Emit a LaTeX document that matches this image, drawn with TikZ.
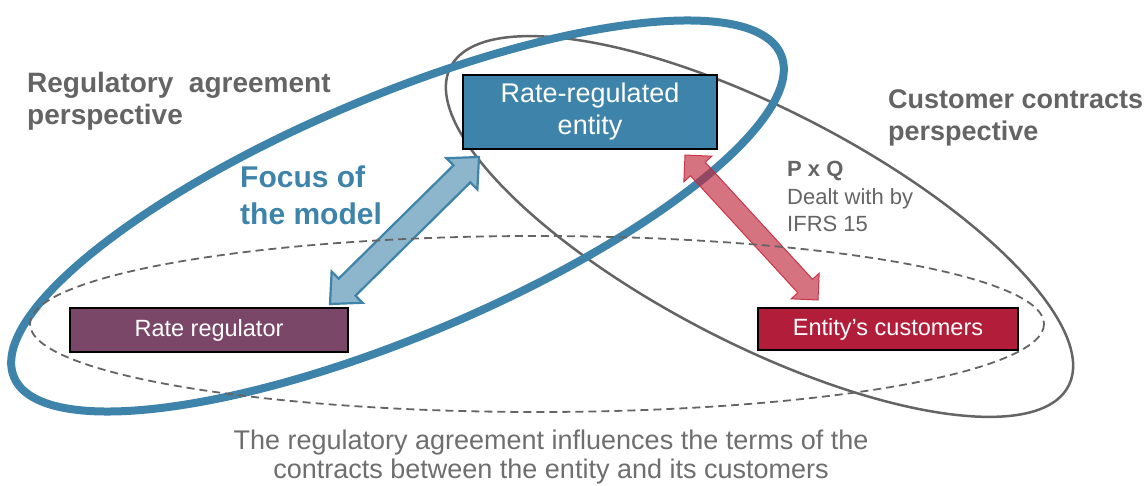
\documentclass[tikz,border=0pt]{standalone}
\usepackage{fontspec}
\setmainfont{Liberation Sans}
\usetikzlibrary{calc}
\definecolor{bblue}{RGB}{62,131,169}
\definecolor{lblue}{RGB}{141,181,204}
\definecolor{plum}{RGB}{123,71,104}
\definecolor{crim}{RGB}{178,30,58}
\definecolor{gtext}{RGB}{100,100,100}
\definecolor{capt}{RGB}{110,110,110}
\definecolor{gline}{RGB}{100,100,100}
\definecolor{redarr}{RGB}{192,40,60}
\definecolor{redline}{RGB}{200,40,60}
\newcommand\blockarrow[6]{%
  \path[#1] (#2)
    -- ($(#2)!#6!(#3)!#5!90:(#3)$)
    -- ($(#2)!#6!(#3)!#4!90:(#3)$)
    -- ($(#3)!#6!(#2)!#4!-90:(#2)$)
    -- ($(#3)!#6!(#2)!#5!-90:(#2)$)
    -- (#3)
    -- ($(#3)!#6!(#2)!#5!90:(#2)$)
    -- ($(#3)!#6!(#2)!#4!90:(#2)$)
    -- ($(#2)!#6!(#3)!#4!-90:(#3)$)
    -- ($(#2)!#6!(#3)!#5!-90:(#3)$)
    -- cycle;}
\tikzset{
  box/.style={draw=black, line width=1.6pt, text=white, align=center, inner sep=0pt},
  persp/.style={text=gtext, font=\fontsize{27}{32}\selectfont\bfseries, align=left, anchor=base west, inner sep=0pt},
}
\begin{document}
\begin{tikzpicture}[x=1pt,y=-1pt]
\useasboundingbox (0,0) rectangle (1147,486);
% ellipses
\draw[gline, line width=2.5pt, rotate around={-27.3:(759.5,226.5)}] (759.5,226.5) ellipse [x radius=347.7, y radius=117];
\draw[bblue, line width=8pt, rotate around={22.8:(397.5,216)}] (397.5,216) ellipse [x radius=416, y radius=120];
% arrows
\coordinate (bA) at (479,157);
\coordinate (bB) at (330,304);
\coordinate (rA) at (685,155);
\coordinate (rB) at (818,300);
\blockarrow{fill=lblue, draw=bblue, line width=2.2pt, line join=miter}{bA}{bB}{12pt}{22pt}{24pt}
\blockarrow{fill=redarr, fill opacity=0.65, draw=redline, draw opacity=0.9, line width=1pt, line join=miter}{rA}{rB}{10pt}{19pt}{19pt}
% dashed ellipse
\draw[gline, line width=1.8pt, dash pattern=on 8pt off 5pt] (537,324) ellipse [x radius=507, y radius=88];
% boxes
\node[box, fill=bblue, minimum width=254pt, minimum height=74pt, font=\fontsize{27}{32}\selectfont] (entity) at (590,112) {Rate-regulated\\entity};
\node[box, fill=plum, minimum width=278pt, minimum height=44pt, font=\fontsize{23.5}{28}\selectfont] (regulator) at (209,330) {Rate regulator};
\node[box, fill=crim, minimum width=260pt, minimum height=42pt, font=\fontsize{23.5}{28}\selectfont] (customers) at (888,329) {Entity’s customers};
% labels (base anchor = baseline of last line)
\node[persp, font=\fontsize{28}{32}\selectfont\bfseries] (regpersp) at (27,125) {Regulatory\ \ agreement\\perspective};
\node[persp] (custpersp) at (888,141) {Customer contracts\\perspective};
\node[text=bblue, font=\fontsize{30}{37}\selectfont\bfseries, align=left, anchor=base west, inner sep=0pt] (focus) at (240,225) {Focus of\\the model};
\node[text=gtext, font=\fontsize{22}{27.5}\selectfont, align=left, anchor=base west, inner sep=0pt] (pq) at (787,232) {\textbf{P x Q}\\Dealt with by\\IFRS 15};
\node[text=capt, font=\fontsize{27}{29}\selectfont, align=center, anchor=base, inner sep=0pt] (caption) at (551,478) {The regulatory agreement influences the terms of the\\contracts between the entity and its customers};
\end{tikzpicture}
\end{document}
